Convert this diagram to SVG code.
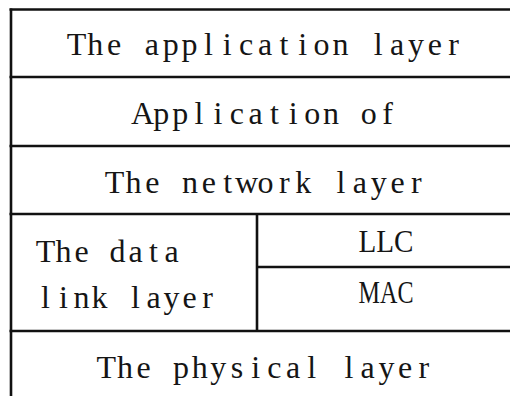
<svg xmlns="http://www.w3.org/2000/svg" width="510" height="396" viewBox="0 0 510 396">
<style>
.ln{stroke:#111;stroke-width:2.6;fill:none}
.t{font-family:"Liberation Serif","DejaVu Serif",serif;font-size:32px;fill:#151515;text-anchor:middle}
.tl{font-family:"Liberation Serif","DejaVu Serif",serif;font-size:32px;fill:#151515}
</style>
<rect width="510" height="396" fill="#fff"/>
<g id="connectors">
<line class="ln" x1="9.5" y1="9.5" x2="510" y2="9.5"/>
<line class="ln" x1="11" y1="8.5" x2="11" y2="396"/>
<line class="ln" x1="9.5" y1="77" x2="510" y2="77"/>
<line class="ln" x1="9.5" y1="146" x2="510" y2="146"/>
<line class="ln" x1="9.5" y1="214" x2="510" y2="214"/>
<line class="ln" x1="257" y1="267" x2="510" y2="267"/>
<line class="ln" x1="257" y1="214" x2="257" y2="331"/>
<line class="ln" x1="9.5" y1="331" x2="510" y2="331"/>
</g>
<g id="application-layer"><text class="tl" y="55" x="66.65 87.29 107.05 123.58 144.77 162.73 181.59 204 222.86 239.07 257.93 279.44 298.3 313.61 332.47 349.9 373.74 389.95 407.91 427.67 448.3">The application layer</text></g>
<g id="application-of"><text class="tl" y="124" x="130.88 153.29 172.15 194.56 213.42 229.63 248.49 270 288.86 304.17 323.03 340.46 360.75 382.28">Application of</text></g>
<g id="network-layer"><text class="tl" y="193" x="104.85 125.49 145.25 161.78 182.07 201.83 223.34 235.1 257.51 279.04 295.23 312.66 336.5 352.71 370.67 390.43 411.06">The network layer</text></g>
<g id="data-link-layer"><text class="tl" y="262" x="35.72 55.5 74.4 90.5 109.5 128.4 149.05 164.4">The data</text><text class="tl" y="308" x="41.05 59.05 73.5 91.5 108.5 131.05 146.4 163.5 182.4 202.17">link layer</text></g>
<g id="llc"><text class="t" x="386" y="252" textLength="55" lengthAdjust="spacingAndGlyphs">LLC</text></g>
<g id="mac"><text class="t" x="386" y="303" textLength="55" lengthAdjust="spacingAndGlyphs">MAC</text></g>
<g id="physical-layer"><text class="tl" y="378" x="96.56 117.01 136.57 153.01 173.02 191.69 210.36 230.8 251.25 267.26 285.93 307.26 321.04 344.6 360.61 378.39 397.95 418.39">The physical layer</text></g>
</svg>
